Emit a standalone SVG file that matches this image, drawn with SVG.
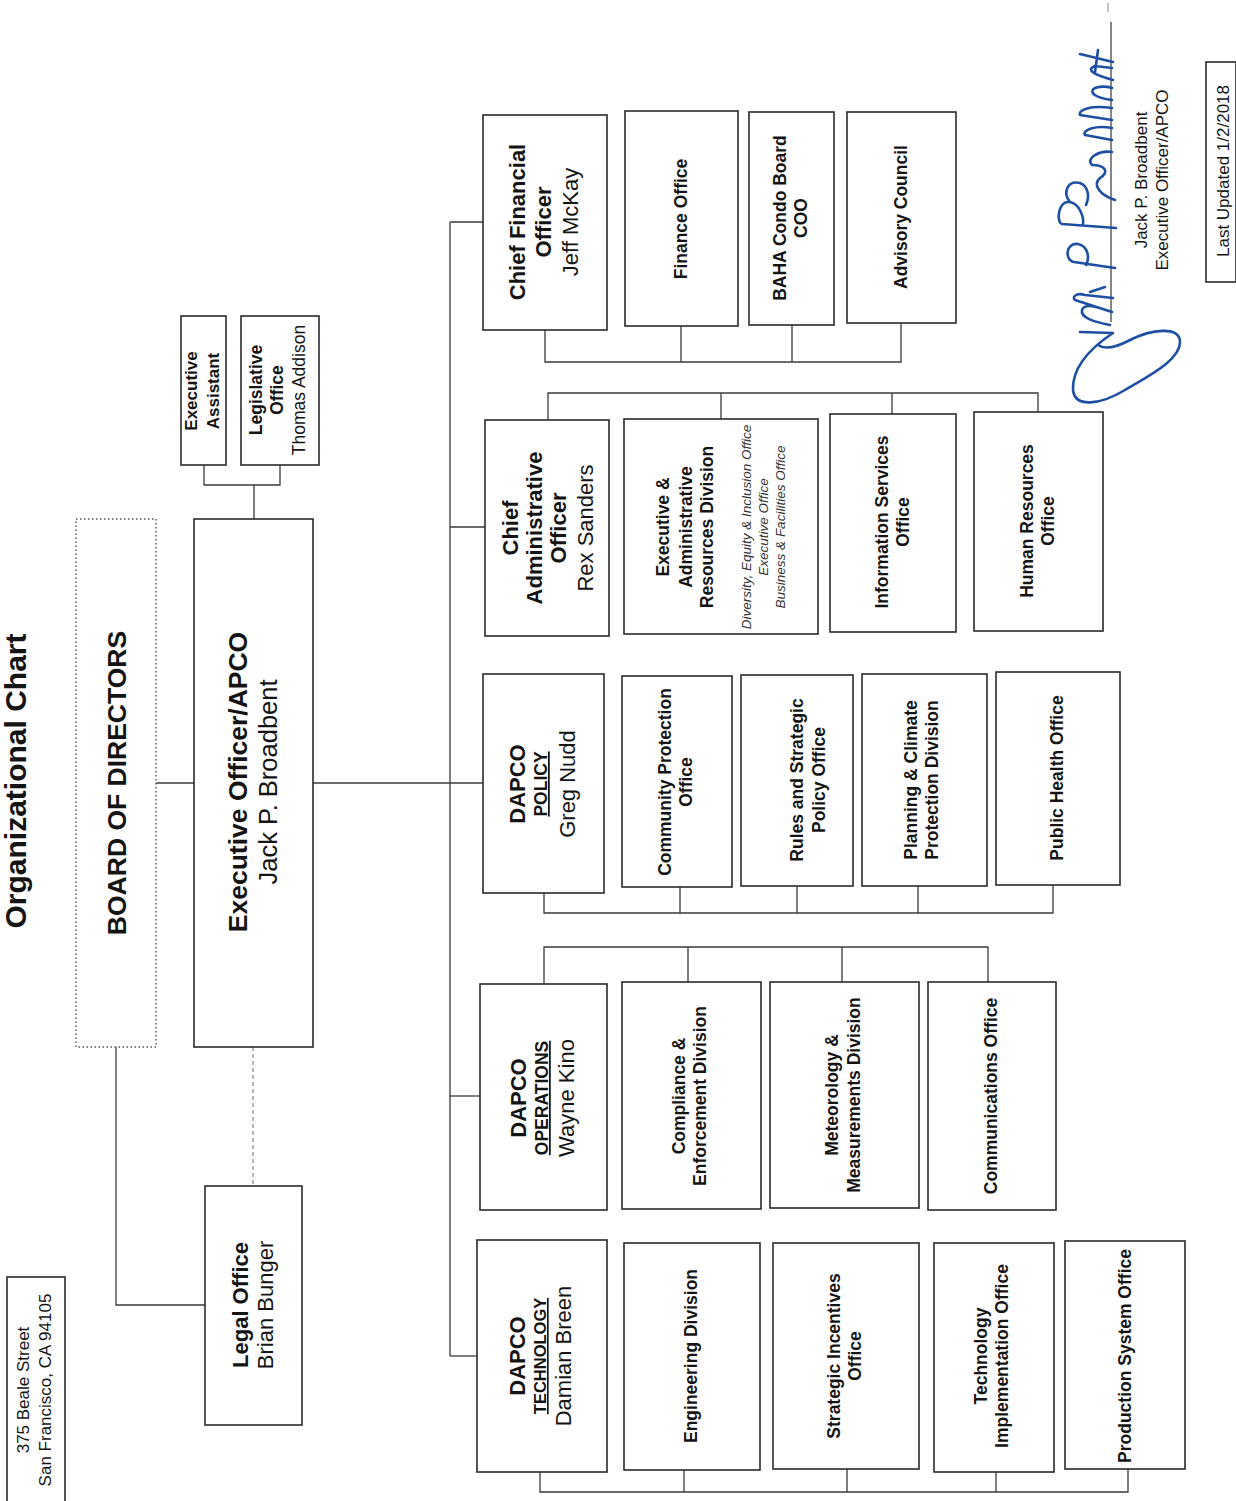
<svg xmlns="http://www.w3.org/2000/svg" width="1236" height="1501" viewBox="0 0 1236 1501">
<style>
text{font-family:"Liberation Sans",Arial,Helvetica,sans-serif;fill:#141414;text-anchor:middle}
.box{fill:#fff;stroke:#2a2a2a;stroke-width:1.6}
.dot{fill:none;stroke:#555;stroke-width:1.4;stroke-dasharray:1.5 2.5}
.con{fill:none;stroke:#3a3a3a;stroke-width:1.3}
.dash{fill:none;stroke:#777;stroke-width:1.1;stroke-dasharray:4 3}
.b{font-weight:bold}
.h{font-size:22px}
.s{font-size:17.5px;font-weight:bold}
.n{font-size:22px;font-weight:normal}
.u{text-decoration:underline}
.it{font-size:13.5px;font-style:italic;fill:#333}
.sig{fill:none;stroke:#1f4fa3;stroke-width:2.6;stroke-linecap:round;stroke-linejoin:round}
</style>
<rect width="1236" height="1501" fill="#fff"/>

<g id="connectors">
  <line class="con" x1="156" y1="783" x2="194" y2="783"/>
  <line class="con" x1="313" y1="783" x2="483" y2="783"/>
  <line class="con" x1="450" y1="222" x2="450" y2="1356"/>
  <line class="con" x1="450" y1="222" x2="483" y2="222"/>
  <line class="con" x1="450" y1="527" x2="485" y2="527"/>
  <line class="con" x1="450" y1="1096" x2="480" y2="1096"/>
  <line class="con" x1="450" y1="1356" x2="477" y2="1356"/>
  <path class="con" d="M204,465 V485 H280 V465 M254,485 V519"/>
  <line class="dash" x1="253" y1="1047" x2="253" y2="1186"/>
  <path class="con" d="M116,1047 V1305 H205"/>
  <path class="con" d="M545,330 V362 H901 V323 M681,326 V362 M792,325 V362"/>
  <path class="con" d="M548,420 V393 H1038 V412 M721,419 V393 M892,414 V393"/>
  <path class="con" d="M544,893 V913 H1053 V885 M680,887 V913 M797,886 V913 M918,886 V913"/>
  <path class="con" d="M544,984 V947 H988 V982 M688,982 V947 M842,982 V947"/>
  <path class="con" d="M540,1472 V1492 H1128 V1469 M684,1470 V1492 M847,1469 V1492 M996,1472 V1492"/>
</g>

<g id="title">
  <text class="b" style="font-size:30px" transform="translate(0,781) rotate(-90)"><tspan x="0" y="26">Organizational Chart</tspan></text>
</g>

<g id="address">
  <rect class="box" x="7" y="1277" width="58" height="230"/>
  <text style="font-size:17px" transform="translate(0,1390) rotate(-90)"><tspan x="0" y="29">375 Beale Street</tspan><tspan x="0" y="51">San Francisco,  CA 94105</tspan></text>
</g>

<g id="board">
  <rect class="dot" x="76" y="519" width="80" height="528"/>
  <text class="b" style="font-size:26.5px" transform="translate(0,783) rotate(-90)"><tspan x="0" y="126">BOARD OF DIRECTORS</tspan></text>
</g>

<g id="exec">
  <rect class="box" x="194" y="519" width="119" height="528"/>
  <text transform="translate(0,782) rotate(-90)"><tspan x="0" y="247" class="b" style="font-size:26.5px">Executive Officer/APCO</tspan><tspan x="0" y="277" style="font-size:25.5px">Jack P.  Broadbent</tspan></text>
</g>

<g id="exec-assistant">
  <rect class="box" x="181" y="316" width="45" height="149"/>
  <text class="b" style="font-size:17px" transform="translate(0,391) rotate(-90)"><tspan x="0" y="197">Executive</tspan><tspan x="0" y="219">Assistant</tspan></text>
</g>

<g id="legislative">
  <rect class="box" x="241" y="316" width="78" height="149"/>
  <text style="font-size:17.5px" transform="translate(0,390) rotate(-90)"><tspan x="0" y="262" class="b">Legislative</tspan><tspan x="0" y="283" class="b">Office</tspan><tspan x="0" y="305">Thomas Addison</tspan></text>
</g>

<g id="legal">
  <rect class="box" x="205" y="1186" width="97" height="239"/>
  <text transform="translate(0,1305) rotate(-90)"><tspan x="0" y="248" class="b h">Legal Office</tspan><tspan x="0" y="273" class="n">Brian Bunger</tspan></text>
</g>

<!-- CFO row -->
<g id="cfo">
  <rect class="box" x="483" y="115" width="124" height="215"/>
  <text transform="translate(0,222) rotate(-90)"><tspan x="0" y="525" class="b h">Chief Financial</tspan><tspan x="0" y="551" class="b h">Officer</tspan><tspan x="0" y="578" class="n">Jeff McKay</tspan></text>
</g>
<g id="finance">
  <rect class="box" x="625" y="111" width="113" height="215"/>
  <text class="s" transform="translate(0,219) rotate(-90)"><tspan x="0" y="687">Finance Office</tspan></text>
</g>
<g id="baha">
  <rect class="box" x="749" y="112" width="85" height="213"/>
  <text class="s" transform="translate(0,218) rotate(-90)"><tspan x="0" y="786">BAHA Condo Board</tspan><tspan x="0" y="807">COO</tspan></text>
</g>
<g id="advisory">
  <rect class="box" x="847" y="112" width="109" height="211"/>
  <text class="s" transform="translate(0,217) rotate(-90)"><tspan x="0" y="907">Advisory Council</tspan></text>
</g>

<!-- CAO row -->
<g id="cao">
  <rect class="box" x="485" y="420" width="124" height="216"/>
  <text transform="translate(0,528) rotate(-90)"><tspan x="0" y="518" class="b h">Chief</tspan><tspan x="0" y="542" class="b h">Administrative</tspan><tspan x="0" y="566" class="b h">Officer</tspan><tspan x="0" y="593" class="n">Rex Sanders</tspan></text>
</g>
<g id="exec-admin">
  <rect class="box" x="624" y="419" width="194" height="215"/>
  <text transform="translate(0,527) rotate(-90)"><tspan x="0" y="669" class="s">Executive &amp;</tspan><tspan x="0" y="692" class="s">Administrative</tspan><tspan x="0" y="713" class="s">Resources Division</tspan><tspan x="0" y="751" class="it">Diversity, Equity &amp; Inclusion Office</tspan><tspan x="0" y="768" class="it">Executive Office</tspan><tspan x="0" y="785" class="it">Business &amp; Facilities Office</tspan></text>
</g>
<g id="info-services">
  <rect class="box" x="830" y="414" width="126" height="218"/>
  <text class="s" transform="translate(0,522) rotate(-90)"><tspan x="0" y="888">Information  Services</tspan><tspan x="0" y="909">Office</tspan></text>
</g>
<g id="human-resources">
  <rect class="box" x="974" y="412" width="129" height="219"/>
  <text class="s" transform="translate(0,521) rotate(-90)"><tspan x="0" y="1033">Human Resources</tspan><tspan x="0" y="1054">Office</tspan></text>
</g>

<!-- Policy row -->
<g id="dapco-policy">
  <rect class="box" x="483" y="674" width="121" height="219"/>
  <text transform="translate(0,784) rotate(-90)"><tspan x="0" y="525" class="b h">DAPCO</tspan><tspan x="0" y="547" class="s u">POLICY</tspan><tspan x="0" y="575" class="n">Greg Nudd</tspan></text>
</g>
<g id="community-protection">
  <rect class="box" x="622" y="676" width="110" height="211"/>
  <text class="s" transform="translate(0,782) rotate(-90)"><tspan x="0" y="671">Community Protection</tspan><tspan x="0" y="692">Office</tspan></text>
</g>
<g id="rules">
  <rect class="box" x="741" y="675" width="112" height="211"/>
  <text class="s" transform="translate(0,780) rotate(-90)"><tspan x="0" y="803">Rules and Strategic</tspan><tspan x="0" y="825">Policy Office</tspan></text>
</g>
<g id="planning">
  <rect class="box" x="862" y="674" width="125" height="212"/>
  <text class="s" transform="translate(0,780) rotate(-90)"><tspan x="0" y="917">Planning &amp; Climate</tspan><tspan x="0" y="938">Protection Division</tspan></text>
</g>
<g id="public-health">
  <rect class="box" x="996" y="672" width="124" height="213"/>
  <text class="s" transform="translate(0,778) rotate(-90)"><tspan x="0" y="1063">Public Health Office</tspan></text>
</g>

<!-- Operations row -->
<g id="dapco-operations">
  <rect class="box" x="480" y="984" width="127" height="226"/>
  <text transform="translate(0,1098) rotate(-90)"><tspan x="0" y="526" class="b h">DAPCO</tspan><tspan x="0" y="548" class="s u">OPERATIONS</tspan><tspan x="0" y="574" class="n">Wayne Kino</tspan></text>
</g>
<g id="compliance">
  <rect class="box" x="622" y="982" width="139" height="227"/>
  <text class="s" transform="translate(0,1096) rotate(-90)"><tspan x="0" y="685">Compliance &amp;</tspan><tspan x="0" y="706">Enforcement Division</tspan></text>
</g>
<g id="meteorology">
  <rect class="box" x="770" y="982" width="149" height="226"/>
  <text class="s" transform="translate(0,1095) rotate(-90)"><tspan x="0" y="838">Meteorology &amp;</tspan><tspan x="0" y="860">Measurements Division</tspan></text>
</g>
<g id="communications">
  <rect class="box" x="928" y="982" width="128" height="228"/>
  <text class="s" transform="translate(0,1096) rotate(-90)"><tspan x="0" y="997">Communications Office</tspan></text>
</g>

<!-- Technology row -->
<g id="dapco-technology">
  <rect class="box" x="477" y="1240" width="130" height="232"/>
  <text transform="translate(0,1356) rotate(-90)"><tspan x="0" y="525" class="b h">DAPCO</tspan><tspan x="0" y="546" class="b u" style="font-size:16.5px">TECHNOLOGY</tspan><tspan x="0" y="571" class="n">Damian Breen</tspan></text>
</g>
<g id="engineering">
  <rect class="box" x="624" y="1243" width="136" height="227"/>
  <text class="s" transform="translate(0,1356) rotate(-90)"><tspan x="0" y="697">Engineering Division</tspan></text>
</g>
<g id="strategic-incentives">
  <rect class="box" x="773" y="1243" width="146" height="226"/>
  <text class="s" transform="translate(0,1356) rotate(-90)"><tspan x="0" y="840">Strategic Incentives</tspan><tspan x="0" y="861">Office</tspan></text>
</g>
<g id="tech-implementation">
  <rect class="box" x="934" y="1243" width="120" height="229"/>
  <text class="s" transform="translate(0,1356) rotate(-90)"><tspan x="0" y="987">Technology</tspan><tspan x="0" y="1008">Implementation Office</tspan></text>
</g>
<g id="production-system">
  <rect class="box" x="1065" y="1241" width="120" height="228"/>
  <text class="s" transform="translate(0,1356) rotate(-90)"><tspan x="0" y="1131">Production System Office</tspan></text>
</g>

<!-- Signature block -->
<g id="signature">
  <line x1="1111" y1="22" x2="1111" y2="322" stroke="#444" stroke-width="1.3"/>
  <line x1="1108" y1="3" x2="1108" y2="12" stroke="#888" stroke-width="1"/>
  <path class="sig" d="M1080,332 L1113,333 C1095,345 1072,365 1073,390 C1075,408 1100,405 1125,390 C1150,375 1180,360 1180,342 C1180,325 1150,330 1130,340 C1115,348 1105,350 1098,345"/>
  <path class="sig" d="M1110,325 C1095,322 1080,318 1082,310 C1085,302 1100,308 1112,312 L1075,300 C1072,298 1075,292 1085,295 L1113,298 M1090,292 L1105,287"/>
  <path class="sig" d="M1115,268 L1074,262 C1064,260 1066,242 1078,244 C1088,246 1090,258 1086,265"/>
  <path class="sig" d="M1116,228 L1062,224 C1056,222 1058,200 1070,202 C1080,204 1084,218 1083,224 M1070,202 C1062,192 1068,180 1080,183 C1088,186 1090,196 1086,205"/>
  <path class="sig" d="M1115,200 C1100,195 1092,185 1100,178 C1110,172 1105,165 1092,165 C1085,158 1100,150 1112,152 M1112,140 L1085,135 C1082,130 1095,125 1112,128 M1112,120 L1080,115 C1078,110 1090,105 1112,108 M1112,100 C1095,98 1088,92 1095,88 C1105,85 1112,88 1112,88 M1113,80 C1095,75 1085,70 1095,66 L1112,68 M1113,62 L1080,54 M1095,72 L1098,50"/>
  <text style="font-size:17px" transform="translate(0,180) rotate(-90)"><tspan x="0" y="1147">Jack P. Broadbent</tspan><tspan x="0" y="1168">Executive Officer/APCO</tspan></text>
</g>

<g id="last-updated">
  <rect class="box" x="1206" y="62" width="30" height="220"/>
  <text style="font-size:17px" transform="translate(0,171) rotate(-90)"><tspan x="0" y="1229">Last Updated 1/2/2018</tspan></text>
</g>
</svg>
